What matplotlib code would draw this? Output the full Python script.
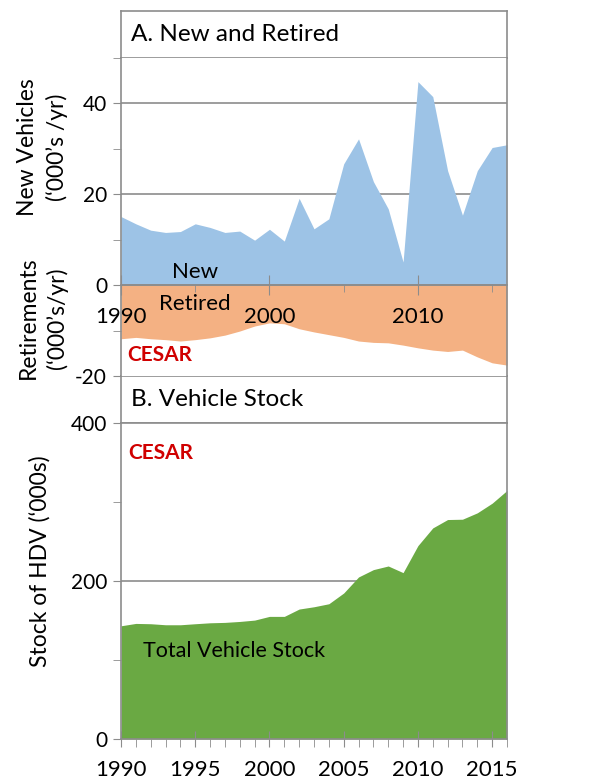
import numpy as np
import matplotlib
matplotlib.use("Agg")
import matplotlib.pyplot as plt
from matplotlib.ticker import MultipleLocator

plt.rcParams['font.family'] = ['Lato', 'DejaVu Sans']

# ---------------------------------------------------------------
years = list(range(1990, 2017))

new_vehicles = [15.1, 13.5, 12.1, 11.6, 11.8, 13.5, 12.7, 11.6, 11.9, 9.9,
                12.3, 9.7, 19.1, 12.4, 14.6, 26.7, 32.2, 22.8, 16.8, 5.1,
                44.8, 41.5, 25.2, 15.4, 25.2, 30.3, 30.9]

retirements = [-11.8, -11.5, -11.8, -12.0, -12.3, -12.0, -11.6, -11.0, -10.1, -9.0,
               -8.3, -8.5, -9.6, -10.3, -10.9, -11.5, -12.3, -12.6, -12.7, -13.2,
               -13.8, -14.3, -14.6, -14.3, -15.8, -17.1, -17.6]

stock = [143.3, 146.3, 145.9, 144.6, 144.6, 145.9, 147.1, 147.6, 148.8, 150.5,
         155.2, 155.2, 164.5, 167.4, 171.2, 184.8, 205.1, 214.4, 219.0, 210.6,
         244.8, 267.2, 277.8, 278.2, 286.3, 298.5, 314.6]

title_a = "A. New and Retired"
title_b = "B. Vehicle Stock"

# ---------------------------------------------------------------
W, H = 594, 780
fig = plt.figure(figsize=(W / 100, H / 100), dpi=100)

def box(x0, y0, x1, y1):
    # pixel coords (top-left origin) -> figure fraction
    return [x0 / W, 1 - y1 / H, (x1 - x0) / W, (y1 - y0) / H]

grey = '#8c8c8c'
blue = '#9dc3e6'
orange = '#f4b183'
green = '#6aa943'
red = '#d00000'

# ---- title boxes
for rect, txt in [((121, 11, 507, 58), title_a), ((121, 376, 507, 423), title_b)]:
    t = fig.add_axes(box(*rect))
    t.set_xticks([]); t.set_yticks([])
    for s in t.spines.values():
        s.set_color(grey); s.set_linewidth(1.2)
    t.text(0.025, 0.5, txt, fontsize=17.5, va='center', ha='left', transform=t.transAxes)

# ---- panel A
ax = fig.add_axes(box(121, 58, 507, 376))
ax.fill_between(years, 0, new_vehicles, color=blue, lw=0)
ax.fill_between(years, 0, retirements, color=orange, lw=0)
ax.set_xlim(1990, 2016)
ax.set_ylim(-20, 50)
ax.set_yticks([-20, 0, 20, 40])
ax.yaxis.set_minor_locator(MultipleLocator(10))
ax.set_yticklabels(['-20', '0', '20', '40'])
for yv in [20, 40]:
    ax.axhline(yv, color=grey, lw=1.2, zorder=0.5)
ax.axhline(0, color=grey, lw=1.2)
ax.spines['bottom'].set_position(('data', 0))
ax.spines['bottom'].set_color(grey)
ax.spines['bottom'].set_linewidth(1.2)
ax.spines['top'].set_visible(False)
for s in ['left', 'right']:
    ax.spines[s].set_color(grey); ax.spines[s].set_linewidth(1.2)
ax.set_xticks([1990, 2000, 2010])
ax.xaxis.set_minor_locator(MultipleLocator(5))
ax.tick_params(axis='x', which='major', direction='inout', length=14, color=grey,
               labelsize=16, pad=9)
ax.tick_params(axis='x', which='minor', direction='out', length=5, color=grey)
ax.tick_params(axis='y', which='both', direction='out', length=6, color=grey,
               labelsize=15, pad=4)
ax.set_axisbelow(False)
ax.text(1995, 3.0, "New", fontsize=16, ha='center', va='center')
ax.text(1995, -4.2, "Retired", fontsize=16, ha='center', va='center')
ax.text(0.015, 0.035, "CESAR", color=red, fontsize=15, fontweight='bold',
        transform=ax.transAxes, ha='left', va='bottom')

fig.text(28 / W, 1 - 147 / H, "New Vehicles", rotation=90, fontsize=16.5, ha='center', va='center')
fig.text(57 / W, 1 - 147 / H, "(\u2018000\u2019s /yr)", rotation=90, fontsize=16.5, ha='center', va='center')
fig.text(28 / W, 1 - 318 / H, "Retirements", rotation=90, fontsize=16.5, ha='center', va='center')
fig.text(57 / W, 1 - 318 / H, "(\u2018000\u2019s/yr)", rotation=90, fontsize=16.5, ha='center', va='center')

# ---- panel B
bx = fig.add_axes(box(121, 423, 507, 739))
bx.fill_between(years, 0, stock, color=green, lw=0)
bx.set_xlim(1990, 2016)
bx.set_ylim(0, 400)
bx.set_yticks([0, 200, 400])
bx.yaxis.set_minor_locator(MultipleLocator(100))
bx.axhline(200, color=grey, lw=1.2, zorder=0.5)
for s in bx.spines.values():
    s.set_color(grey); s.set_linewidth(1.2)
bx.set_xticks(list(range(1990, 2016, 5)))
bx.xaxis.set_minor_locator(MultipleLocator(1))
bx.tick_params(axis='x', which='major', direction='inout', length=12, color=grey,
               labelsize=16, pad=9)
bx.tick_params(axis='x', which='minor', direction='out', length=6, color=grey)
bx.tick_params(axis='y', which='both', direction='out', length=6, color=grey,
               labelsize=15, pad=4)
bx.text(1991.5, 112, "Total Vehicle Stock", fontsize=15.5, ha='left', va='center')
bx.text(0.018, 0.905, "CESAR", color=red, fontsize=15, fontweight='bold',
        transform=bx.transAxes, ha='left', va='center')
fig.text(40 / W, 1 - 561 / H, "Stock of HDV (\u2018000s)", rotation=90, fontsize=16.5,
         ha='center', va='center')

fig.savefig("out.png", dpi=100)
